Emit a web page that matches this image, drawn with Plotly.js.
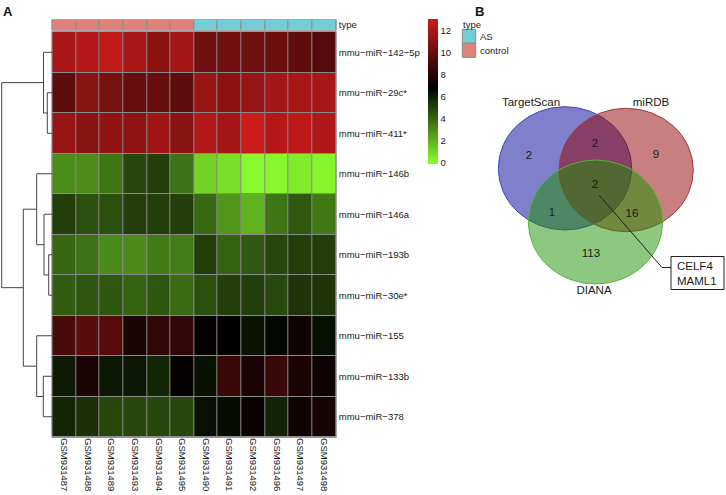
<!DOCTYPE html>
<html>
<head>
<meta charset="utf-8">
<script src="https://cdn.plot.ly/plotly-3.0.1.min.js"></script>
<style>html,body{margin:0;padding:0;background:#fff;}#chart{width:726px;height:495px;}</style>
</head>
<body>
<div id="chart"></div>
<script>
// ---------------- DATA ----------------
const samples = ['GSM931487','GSM931488','GSM931489','GSM931493','GSM931494','GSM931495',
                 'GSM931490','GSM931491','GSM931492','GSM931496','GSM931497','GSM931498'];
const sampleType = ['control','control','control','control','control','control',
                    'AS','AS','AS','AS','AS','AS'];
const typeLevels = ['AS','control'];
const mirnas = ['mmu\u2212miR\u2212142\u22125p','mmu\u2212miR\u221229c*','mmu\u2212miR\u2212411*',
                'mmu\u2212miR\u2212146b','mmu\u2212miR\u2212146a','mmu\u2212miR\u2212193b',
                'mmu\u2212miR\u221230e*','mmu\u2212miR\u2212155','mmu\u2212miR\u2212133b','mmu\u2212miR\u2212378'];

const expr142_5p = [12.0,12.4,12.7,12.0,11.1,11.9, 10.2,10.2,10.2,10.1,9.75,9.4];
const expr29c    = [9.7,11.0,10.45,10.0,10.0,9.75, 11.5,11.1,11.5,11.9,12.0,12.0];
const expr411    = [11.5,11.0,11.3,11.2,11.7,11.0, 12.3,11.9,13.05,12.4,12.6,12.2];
const expr146b   = [2.95,2.95,3.6,4.85,5.1,3.7, 1.05,0.7,0.02,0.05,0.4,0.1];
const expr146a   = [5.1,4.6,4.65,5.1,5.1,5.1, 3.95,2.7,1.95,3.6,4.4,3.5];
const expr193b   = [4.0,3.7,3.0,3.0,3.45,3.4, 5.1,4.1,4.4,4.85,5.1,5.1];
const expr30e    = [4.3,4.45,4.45,4.1,4.45,3.9, 4.6,5.1,5.1,4.8,5.35,5.35];
const expr155    = [9.05,9.6,9.4,7.7,8.3,8.3, 6.95,6.75,6.25,6.65,7.3,6.4];
const expr133b   = [6.1,7.7,6.15,6.15,5.8,6.95, 6.35,8.6,7.7,8.6,7.7,7.3];
const expr378    = [5.8,5.45,4.85,4.85,4.85,4.85, 6.4,6.45,7.1,5.85,7.3,7.5];

// row clustering (hclust-style merges: negative = leaf row index, positive = merge number)
const mergeLeft   = [-1, -0, -5, -4, -3, -8, -7, 5, 2];
const mergeRight  = [-2,  1, -6,  3,  4, -9,  6, 7, 8];
const mergeHeight = [5.0, 8.8, 3.6, 8.3, 15.6, 9.0, 15.6, 29.0, 50.6];

// Venn counts
const vennSets = ['TargetScan','miRDB','DIANA'];
const vennRegions = ['TS','TS&miRDB','miRDB','all','TS&DIANA','miRDB&DIANA','DIANA'];
const vennCounts  = [2, 2, 9, 2, 1, 16, 113];
const commonGenes = ['CELF4','MAML1'];

// ---------------- LAYOUT HELPERS ----------------
const W = 726, H = 495;
const px = v => v / W;
const py = v => 1 - v / H;
const FONT = 'Liberation Sans, Arial, sans-serif';
const TXT = '#1a1a1a';

const exprRows = [expr142_5p, expr29c, expr411, expr146b, expr146a, expr193b, expr30e, expr155, expr133b, expr378];
const colIdx = samples.map((s, i) => i);
const rowIdx = mirnas.map((s, i) => i);

const zmin = -0.15, zmax = 13.1, zmid = 6.8;
const mfrac = (zmid - zmin) / (zmax - zmin);

// dendrogram segments
const pos = [], hgt = [];
const dx = [], dy = [];
function nodePos(ref) {
  if (ref < 0 || Object.is(ref, -0)) return { y: -ref, h: 0 };
  return { y: pos[ref - 1], h: hgt[ref - 1] };
}
for (let k = 0; k < mergeHeight.length; k++) {
  const a = nodePos(mergeLeft[k]), b = nodePos(mergeRight[k]);
  const h = mergeHeight[k];
  dx.push(a.h, h, h, b.h, null);
  dy.push(a.y, a.y, b.y, b.y, null);
  pos.push((a.y + b.y) / 2);
  hgt.push(h);
}

const traces = [];
traces.push({
  type: 'heatmap', x: colIdx, y: rowIdx, z: exprRows,
  xaxis: 'x', yaxis: 'y',
  zmin: zmin, zmax: zmax,
  colorscale: [[0, '#8AFF2D'], [mfrac, '#000000'], [1, '#CD1B1B']],
  xgap: 1, ygap: 1, hoverinfo: 'skip',
  colorbar: {
    x: px(428), xanchor: 'left', xref: 'paper', xpad: 0,
    y: py(19), yanchor: 'top', ypad: 0,
    len: 145, lenmode: 'pixels', thickness: 10,
    outlinewidth: 0, ticks: '', ticklabelpad: 4,
    tickvals: [0, 2, 4, 6, 8, 10, 12],
    tickfont: { family: FONT, size: 9.5, color: TXT }
  }
});
traces.push({
  type: 'heatmap', x: colIdx, y: [0],
  z: [sampleType.map(t => typeLevels.indexOf(t) === 0 ? 1 : 0)],
  xaxis: 'x', yaxis: 'y2', zmin: 0, zmax: 1,
  colorscale: [[0, '#E0827C'], [1, '#72CDD5']],
  showscale: false, xgap: 1, ygap: 0, hoverinfo: 'skip'
});
traces.push({
  type: 'scatter', mode: 'lines', x: dx, y: dy, xaxis: 'x4', yaxis: 'y',
  line: { color: '#444', width: 1 }, hoverinfo: 'skip', showlegend: false, connectgaps: false
});

const circles = [
  { x0: 498.3, x1: 631.7, y0: 106.7, y1: 230.0, fill: 'rgba(0,0,153,0.5)',   line: '#4343B3', label: [531, 103] },
  { x0: 559.0, x1: 693.3, y0: 108.3, y1: 231.7, fill: 'rgba(145,0,0,0.5)',   line: '#A5383B', label: [651, 103] },
  { x0: 528.3, x1: 662.7, y0: 160.0, y1: 284.0, fill: 'rgba(25,145,0,0.5)',  line: '#5FAE42', label: [594, 291] }
];
const regionPos = [[529,156],[595,144],[656,155],[595,185],[552,213],[632,214],[591,254]];

traces.push({
  type: 'scatter', mode: 'text', xaxis: 'x3', yaxis: 'y3',
  x: regionPos.map(p => p[0]), y: regionPos.map(p => p[1]),
  text: vennCounts.map(String), textposition: 'middle center',
  textfont: { family: FONT, size: 11.5, color: TXT }, hoverinfo: 'skip', showlegend: false
});
traces.push({
  type: 'scatter', mode: 'text', xaxis: 'x3', yaxis: 'y3',
  x: circles.map(c => c.label[0]), y: circles.map(c => c.label[1]),
  text: vennSets, textposition: 'middle center',
  textfont: { family: FONT, size: 11.5, color: TXT }, hoverinfo: 'skip', showlegend: false
});

const shapes = [];
shapes.push({ type: 'rect', xref: 'paper', yref: 'paper', layer: 'below',
  x0: px(51.8), x1: px(336.3), y0: py(437.5), y1: py(31.5),
  fillcolor: '#8a8a8a', line: { color: '#9a9a9a', width: 1 } });
shapes.push({ type: 'rect', xref: 'paper', yref: 'paper', layer: 'below',
  x0: px(51.8), x1: px(336.3), y0: py(30.3), y1: py(19.7),
  fillcolor: '#8a8a8a', line: { color: '#9a9a9a', width: 1 } });
circles.forEach(c => shapes.push({ type: 'circle', xref: 'x3', yref: 'y3', layer: 'below',
  x0: c.x0, x1: c.x1, y0: c.y0, y1: c.y1, fillcolor: c.fill, line: { color: c.line, width: 1 } }));
shapes.push({ type: 'path', xref: 'x3', yref: 'y3', layer: 'below',
  path: 'M 599 195 L 662 267.5 L 671 267.5', line: { color: '#222', width: 1 } });
shapes.push({ type: 'rect', xref: 'x3', yref: 'y3', layer: 'below',
  x0: 671, x1: 724, y0: 256.5, y1: 289.5, fillcolor: '#fff', line: { color: '#222', width: 1 } });
typeLevels.forEach((t, i) => {
  shapes.push({ type: 'rect', xref: 'paper', yref: 'paper', layer: 'above',
    x0: px(462.3), x1: px(475.7), y0: py(29.3 + 14 * (i + 1)), y1: py(29.3 + 14 * i),
    fillcolor: t === 'AS' ? '#72CDD5' : '#E0827C', line: { color: '#8a8a8a', width: 1 } });
});

const annotations = [];
annotations.push({ xref: 'paper', yref: 'paper', x: px(1), y: py(2), xanchor: 'left', yanchor: 'top',
  text: '<b>A</b>', showarrow: false, font: { family: FONT, size: 13, color: '#111' } });
annotations.push({ xref: 'paper', yref: 'paper', x: px(473), y: py(2), xanchor: 'left', yanchor: 'top',
  text: '<b>B</b>', showarrow: false, font: { family: FONT, size: 13, color: '#111' } });
annotations.push({ xref: 'paper', yref: 'paper', x: px(461), y: py(24.5), xanchor: 'left', yanchor: 'middle',
  text: 'type', showarrow: false, font: { family: FONT, size: 9.5, color: TXT } });
typeLevels.forEach((t, i) => annotations.push({ xref: 'paper', yref: 'paper',
  x: px(478), y: py(36.5 + 14 * i), xanchor: 'left', yanchor: 'middle',
  text: t, showarrow: false, font: { family: FONT, size: 9.5, color: TXT } }));
annotations.push({ xref: 'x3', yref: 'y3', x: 674.5, y: 273, xanchor: 'left', yanchor: 'middle',
  text: commonGenes.join('<br>'), align: 'left', showarrow: false,
  font: { family: FONT, size: 11.5, color: TXT } });

const layout = {
  width: W, height: H, autosize: false,
  margin: { l: 0, r: 0, t: 0, b: 0, pad: 0 },
  paper_bgcolor: '#ffffff', plot_bgcolor: 'rgba(0,0,0,0)',
  showlegend: false,
  font: { family: FONT, color: TXT },
  xaxis: { domain: [px(52.3), px(335.8)], range: [-0.5, 11.5], anchor: 'y',
    tickvals: colIdx, ticktext: samples, tickangle: 90, ticks: '', ticklen: 0,
    showgrid: false, zeroline: false, showline: false, fixedrange: true,
    tickfont: { family: FONT, size: 9.5, color: TXT } },
  yaxis: { domain: [py(437), py(32)], range: [9.5, -0.5], anchor: 'x', side: 'right',
    tickvals: rowIdx, ticktext: mirnas, ticks: '', ticklen: 0, ticklabelstandoff: 2,
    showgrid: false, zeroline: false, showline: false,
    tickfont: { family: FONT, size: 9.5, color: TXT } },
  yaxis2: { domain: [py(30), py(20)], range: [-0.5, 0.5], anchor: 'x', side: 'right',
    tickvals: [0], ticktext: ['type'], ticks: '', ticklabelstandoff: 2,
    showgrid: false, zeroline: false, showline: false,
    tickfont: { family: FONT, size: 9.5, color: TXT } },
  xaxis4: { domain: [0, px(52.3)], range: [52.3, 0], anchor: 'y', visible: false,
    showgrid: false, zeroline: false },
  xaxis3: { domain: [px(480), 1], range: [480, 726], anchor: 'y3', visible: false },
  yaxis3: { domain: [py(300), py(80)], range: [300, 80], anchor: 'x3', visible: false },
  shapes: shapes,
  annotations: annotations
};

Plotly.newPlot('chart', traces, layout, { staticPlot: true, displayModeBar: false });
</script>
</body>
</html>
